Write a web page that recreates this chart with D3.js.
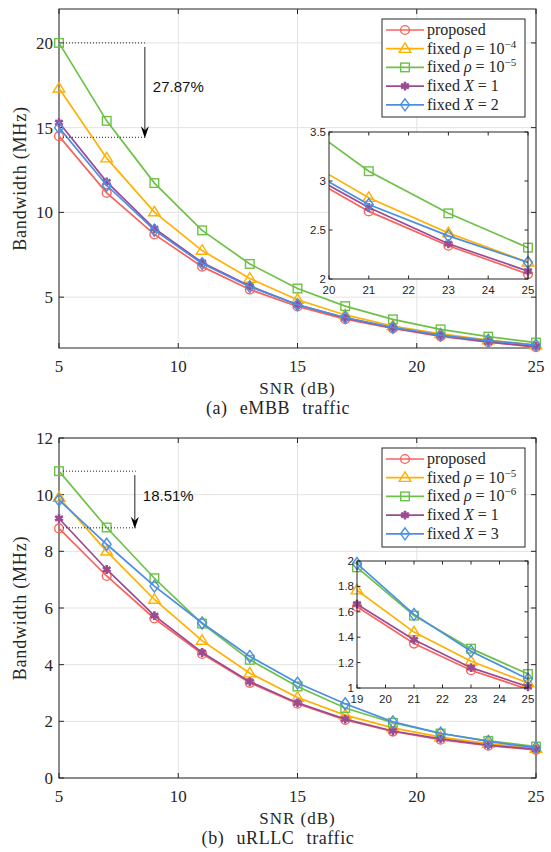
<!DOCTYPE html>
<html>
<head>
<meta charset="utf-8">
<script src="https://cdn.jsdelivr.net/npm/d3@7"></script>
<style>
  body { margin: 0; background: #fff; }
  text { fill: #262626; }
</style>
</head>
<body>
<script>
"use strict";
// SNR sweep (dB)
var snr = [5, 7, 9, 11, 13, 15, 17, 19, 21, 23, 25];

// (a) eMBB bandwidth (MHz)
var embbProposed = [14.5, 11.15, 8.7, 6.8, 5.45, 4.45, 3.7, 3.15, 2.69, 2.34, 2.05];
var embbRho4     = [17.32, 13.2, 10.02, 7.75, 6.1, 4.85, 3.95, 3.3, 2.83, 2.47, 2.17];
var embbRho5     = [20.0, 15.4, 11.73, 8.94, 6.96, 5.51, 4.47, 3.69, 3.1, 2.67, 2.32];
var embbX1       = [15.3, 11.8, 9.05, 7.05, 5.65, 4.55, 3.78, 3.18, 2.73, 2.36, 2.08];
var embbX2       = [15.0, 11.6, 8.95, 6.98, 5.62, 4.55, 3.8, 3.22, 2.76, 2.44, 2.17];

// (b) uRLLC bandwidth (MHz)
var urllcProposed = [8.81, 7.13, 5.63, 4.38, 3.36, 2.62, 2.05, 1.64, 1.35, 1.14, 0.99];
var urllcRho5     = [9.9, 8.0, 6.3, 4.85, 3.7, 2.84, 2.22, 1.77, 1.44, 1.21, 1.04];
var urllcRho6     = [10.83, 8.84, 7.05, 5.45, 4.17, 3.23, 2.47, 1.95, 1.57, 1.31, 1.11];
var urllcX1       = [9.16, 7.36, 5.73, 4.43, 3.4, 2.65, 2.08, 1.66, 1.38, 1.16, 1.01];
var urllcX3       = [9.81, 8.25, 6.77, 5.47, 4.29, 3.35, 2.62, 1.98, 1.58, 1.29, 1.07];

var xTicks = [5, 10, 15, 20, 25];
var embbYTicks = [5, 10, 15, 20];
var urllcYTicks = [0, 2, 4, 6, 8, 10, 12];
var embbInsetXTicks = [20, 21, 22, 23, 24, 25];
var embbInsetYTicks = [2, 2.5, 3, 3.5];
var urllcInsetXTicks = [19, 20, 21, 22, 23, 24, 25];
var urllcInsetYTicks = [1, 1.2, 1.4, 1.6, 1.8, 2];

var colors = ["#f8635a", "#ffb000", "#6ec147", "#9a4b93", "#4b8fe2"];
var markers = ["circle", "triangle", "square", "star", "diamond"];

var serif = "'Liberation Serif', 'DejaVu Serif', serif";
var sans = "'Liberation Sans', Arial, sans-serif";

var svg = d3.select("body").append("svg")
    .attr("width", 551)
    .attr("height", 852);

function marker(g, type, x, y, color) {
  var m;
  if (type == "circle") {
    m = g.append("circle").attr("cx", x).attr("cy", y).attr("r", 4.4);
  } else if (type == "square") {
    m = g.append("rect").attr("x", x - 4.3).attr("y", y - 4.3)
        .attr("width", 8.6).attr("height", 8.6);
  } else if (type == "triangle") {
    m = g.append("path").attr("d", "M" + x + "," + (y - 5.8) + "L" + (x + 5.8) + "," + (y + 3.7) +
        "L" + (x - 5.8) + "," + (y + 3.7) + "Z");
  } else if (type == "diamond") {
    m = g.append("path").attr("d", "M" + x + "," + (y - 6) + "L" + (x + 4.4) + "," + y +
        "L" + x + "," + (y + 6) + "L" + (x - 4.4) + "," + y + "Z");
  } else {
    m = g.append("path").attr("transform", "translate(" + x + "," + y + ")")
        .attr("d", d3.symbol(d3.symbolAsterisk, 55)())
        .attr("stroke-width", 2.6);
  }
  m.attr("fill", "none").attr("stroke", color);
  if (type != "star") m.attr("stroke-width", 1.4);
}

function drawSeries(g, x, y, series, xd, yd) {
  var line = d3.line().x(function(d, i) { return x(snr[i]); }).y(function(d) { return y(d); });
  series.forEach(function(vals, k) {
    g.append("path").datum(vals)
      .attr("d", line)
      .attr("fill", "none")
      .attr("stroke", colors[k])
      .attr("stroke-width", 1.7)
      .attr("clip-path", g.attr("data-clip"));
    vals.forEach(function(v, i) {
      if (snr[i] < xd[0] || snr[i] > xd[1] || v < yd[0] || v > yd[1]) return;
      marker(g, markers[k], x(snr[i]), y(v), colors[k]);
    });
  });
}

function drawPanel(p) {
  var g = svg.append("g");
  var x = d3.scaleLinear().domain([5, 25]).range([p.box[0], p.box[2]]);
  var y = d3.scaleLinear().domain(p.yDomain).range([p.box[3], p.box[1]]);

  // grid
  xTicks.forEach(function(t) {
    g.append("line").attr("x1", x(t)).attr("x2", x(t)).attr("y1", p.box[1]).attr("y2", p.box[3])
      .attr("stroke", "#e3e3e3");
  });
  p.yTicks.forEach(function(t) {
    g.append("line").attr("x1", p.box[0]).attr("x2", p.box[2]).attr("y1", y(t)).attr("y2", y(t))
      .attr("stroke", "#e3e3e3");
  });

  // axes box + inward ticks
  var axis = g.append("g").attr("stroke", "#262626");
  axis.append("rect").attr("x", p.box[0]).attr("y", p.box[1])
    .attr("width", p.box[2] - p.box[0]).attr("height", p.box[3] - p.box[1])
    .attr("fill", "none").attr("stroke-width", 1);
  xTicks.forEach(function(t) {
    axis.append("line").attr("x1", x(t)).attr("x2", x(t)).attr("y1", p.box[3]).attr("y2", p.box[3] - 5);
    axis.append("line").attr("x1", x(t)).attr("x2", x(t)).attr("y1", p.box[1]).attr("y2", p.box[1] + 5);
    g.append("text").attr("x", x(t)).attr("y", p.box[3] + 24)
      .attr("text-anchor", "middle").style("font", "17px " + serif).text(t);
  });
  p.yTicks.forEach(function(t) {
    axis.append("line").attr("x1", p.box[0]).attr("x2", p.box[0] + 5).attr("y1", y(t)).attr("y2", y(t));
    axis.append("line").attr("x1", p.box[2]).attr("x2", p.box[2] - 5).attr("y1", y(t)).attr("y2", y(t));
    g.append("text").attr("x", p.box[0] - 6).attr("y", y(t) + 6)
      .attr("text-anchor", "end").style("font", "17px " + serif).text(t);
  });

  // labels
  g.append("text").attr("x", (p.box[0] + p.box[2]) / 2).attr("y", p.box[3] + 46)
    .attr("text-anchor", "middle").style("font", "17px " + serif).style("letter-spacing", "1px")
    .text("SNR (dB)");
  g.append("text").attr("x", 278).attr("y", p.box[3] + 66)
    .attr("text-anchor", "middle").style("font", "18px " + serif)
    .style("letter-spacing", "0.6px").style("word-spacing", "7px")
    .text(p.caption);
  g.append("text")
    .attr("transform", "translate(" + 26 + "," + ((p.box[1] + p.box[3]) / 2) + ") rotate(-90)")
    .attr("text-anchor", "middle").style("font", "18px " + serif).style("letter-spacing", "0.8px")
    .text("Bandwidth (MHz)");

  // data
  drawSeries(g, x, y, p.series, [5, 25], p.yDomain);

  // annotation
  var ax = x(p.note.x);
  var nt = g.append("g").attr("stroke", "#222").attr("stroke-width", 1);
  nt.append("line").attr("x1", x(5) + 4).attr("x2", ax + 1).attr("y1", y(p.note.hi)).attr("y2", y(p.note.hi))
    .attr("stroke-dasharray", "1,2");
  nt.append("line").attr("x1", x(5) + 4).attr("x2", ax + 1).attr("y1", y(p.note.lo)).attr("y2", y(p.note.lo))
    .attr("stroke-dasharray", "1,2");
  nt.append("line").attr("x1", ax).attr("x2", ax).attr("y1", y(p.note.hi) + 4).attr("y2", y(p.note.lo) - 6);
  nt.append("path")
    .attr("d", "M" + ax + "," + (y(p.note.lo) + 1) + "L" + (ax - 4) + "," + (y(p.note.lo) - 11) +
      "L" + ax + "," + (y(p.note.lo) - 7) + "L" + (ax + 4) + "," + (y(p.note.lo) - 11) + "Z")
    .attr("fill", "#000").attr("stroke", "none");
  g.append("text").attr("x", ax + 8).attr("y", (y(p.note.hi) + y(p.note.lo)) / 2 + 2)
    .style("font", "15px " + sans).style("fill", "#111").text(p.note.text);

  // legend
  var lb = p.legendBox;
  var lg = g.append("g");
  lg.append("rect").attr("x", lb[0]).attr("y", lb[1]).attr("width", lb[2] - lb[0]).attr("height", lb[3] - lb[1])
    .attr("fill", "#fff").attr("stroke", "#262626").attr("stroke-width", 1);
  p.labels.forEach(function(lab, k) {
    var ly = lb[1] + 11 + k * 18.7;
    lg.append("line").attr("x1", lb[0] + 4).attr("x2", lb[0] + 42).attr("y1", ly).attr("y2", ly)
      .attr("stroke", colors[k]).attr("stroke-width", 1.7);
    marker(lg, markers[k], lb[0] + 23, ly, colors[k]);
    var t = lg.append("text").attr("x", lb[0] + 45).attr("y", ly + 5).style("font", "16px " + serif);
    lab.forEach(function(part) {
      var s = t.append("tspan").text(part[0]);
      if (part[1] == "i") s.style("font-style", "italic");
      if (part[1] == "sup") s.attr("dy", -6).style("font-size", "11px");
    });
  });

  // inset
  var ib = p.inset.box;
  var ig = g.append("g");
  var clipId = "clip" + p.id;
  svg.append("clipPath").attr("id", clipId).append("rect")
    .attr("x", ib[0]).attr("y", ib[1]).attr("width", ib[2] - ib[0]).attr("height", ib[3] - ib[1]);
  var ix = d3.scaleLinear().domain(p.inset.xDomain).range([ib[0], ib[2]]);
  var iy = d3.scaleLinear().domain(p.inset.yDomain).range([ib[3], ib[1]]);
  ig.append("rect").attr("x", ib[0]).attr("y", ib[1]).attr("width", ib[2] - ib[0]).attr("height", ib[3] - ib[1])
    .attr("fill", "#fff");
  var sg = ig.append("g").attr("data-clip", "url(#" + clipId + ")");
  drawSeries(sg, ix, iy, p.series, p.inset.xDomain, p.inset.yDomain);
  var ia = ig.append("g").attr("stroke", "#262626");
  ia.append("rect").attr("x", ib[0]).attr("y", ib[1]).attr("width", ib[2] - ib[0]).attr("height", ib[3] - ib[1])
    .attr("fill", "none");
  p.inset.xTicks.forEach(function(t) {
    ia.append("line").attr("x1", ix(t)).attr("x2", ix(t)).attr("y1", ib[3]).attr("y2", ib[3] - 3.5);
    ia.append("line").attr("x1", ix(t)).attr("x2", ix(t)).attr("y1", ib[1]).attr("y2", ib[1] + 3.5);
    ig.append("text").attr("x", ix(t)).attr("y", ib[3] + 15).attr("text-anchor", "middle")
      .style("font", "11.5px " + sans).text(t);
  });
  p.inset.yTicks.forEach(function(t) {
    ia.append("line").attr("x1", ib[0]).attr("x2", ib[0] + 3.5).attr("y1", iy(t)).attr("y2", iy(t));
    ia.append("line").attr("x1", ib[2]).attr("x2", ib[2] - 3.5).attr("y1", iy(t)).attr("y2", iy(t));
    ig.append("text").attr("x", ib[0] - 3).attr("y", iy(t) + 4).attr("text-anchor", "end")
      .style("font", "11.5px " + sans).text(t);
  });
}

drawPanel({
  id: "a",
  box: [59, 9, 536, 348],
  yDomain: [2, 22],
  yTicks: embbYTicks,
  series: [embbProposed, embbRho4, embbRho5, embbX1, embbX2],
  labels: [
    [["proposed"]],
    [["fixed "], ["\u03c1", "i"], [" = 10"], ["\u22124", "sup"]],
    [["fixed "], ["\u03c1", "i"], [" = 10"], ["\u22125", "sup"]],
    [["fixed "], ["X", "i"], [" = 1"]],
    [["fixed "], ["X", "i"], [" = 2"]]
  ],
  legendBox: [382, 19, 525, 117],
  inset: { box: [329, 132, 528, 279], xDomain: [20, 25], yDomain: [2, 3.5],
           xTicks: embbInsetXTicks, yTicks: embbInsetYTicks },
  note: { x: 8.6, hi: 20.0, lo: 14.43, text: "27.87%" },
  caption: "(a) eMBB traffic"
});

drawPanel({
  id: "b",
  box: [59, 438, 536, 778],
  yDomain: [0, 12],
  yTicks: urllcYTicks,
  series: [urllcProposed, urllcRho5, urllcRho6, urllcX1, urllcX3],
  labels: [
    [["proposed"]],
    [["fixed "], ["\u03c1", "i"], [" = 10"], ["\u22125", "sup"]],
    [["fixed "], ["\u03c1", "i"], [" = 10"], ["\u22126", "sup"]],
    [["fixed "], ["X", "i"], [" = 1"]],
    [["fixed "], ["X", "i"], [" = 3"]]
  ],
  legendBox: [382, 448, 525, 547],
  inset: { box: [357, 561, 528, 688], xDomain: [19, 25], yDomain: [1, 2],
           xTicks: urllcInsetXTicks, yTicks: urllcInsetYTicks },
  note: { x: 8.18, hi: 10.83, lo: 8.83, text: "18.51%" },
  caption: "(b) uRLLC traffic"
});
</script>
</body>
</html>
